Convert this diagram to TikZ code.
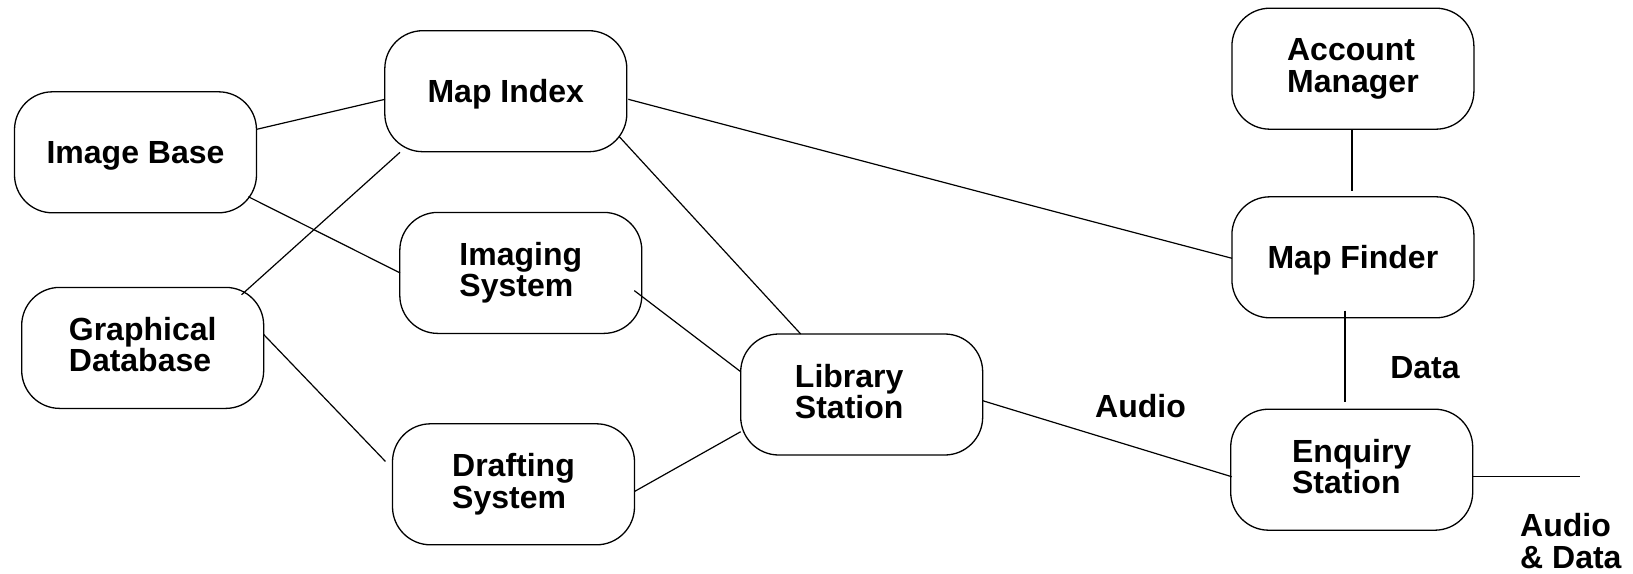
\documentclass[tikz,border=0pt]{standalone}
\usepackage{fontspec}
\setmainfont{Liberation Sans}
\begin{document}
\begin{tikzpicture}[x=1pt,y=-1pt,
  box/.style={draw,line width=1.3pt,rounded corners=38pt,minimum width=242pt,minimum height=121pt,inner sep=0pt,align=left,font=\fontsize{32}{31.5}\selectfont\bfseries,text depth=6.5pt},
  onebox/.style={box,text depth=0pt},
  lbl/.style={inner sep=0pt,align=left,font=\fontsize{32}{31.5}\selectfont\bfseries},
  link/.style={line width=1.2pt}]
\useasboundingbox (0,0) rectangle (1633,573);
\node[onebox] (ib) at (135.5,152.3) {Image Base};
\node[onebox] (mi) at (505.8,91.2) {Map Index};
\node[box] (is) at (520.8,272.9) {Imaging\\System};
\node[box] (gd) at (142.7,347.9) {Graphical\\Database};
\node[box] (ds) at (513.5,484.3) {Drafting\\System};
\node[box] (ls) at (861.7,394.5) {Library\\Station\hspace*{25pt}};
\node[box] (am) at (1352.9,68.7) {Account\\Manager};
\node[onebox] (mf) at (1352.9,257.3) {Map Finder};
\node[box] (es) at (1351.7,469.7) {Enquiry\\Station};
\coordinate (out) at (1580,476.7);
\draw[link] ([shift={(121.2,-23)}]ib.center) -- ([shift={(-120.8,8.1)}]mi.center);
\draw[link] ([shift={(112.8,44.4)}]ib.center) -- ([shift={(-120.8,0)}]is.center);
\draw[link] ([shift={(-105.8,61.1)}]mi.center) -- ([shift={(98.9,-53.2)}]gd.center);
\draw[link] ([shift={(113.5,45.5)}]mi.center) -- ([shift={(-61,-60.5)}]ls.center);
\draw[link] ([shift={(122.5,8.1)}]mi.center) -- ([shift={(-120.9,1)}]mf.center);
\draw[link] ([shift={(113.5,17.7)}]is.center) -- ([shift={(-121,-22.8)}]ls.center);
\draw[link] ([shift={(120.8,-13.6)}]gd.center) -- ([shift={(-128.1,-22.9)}]ds.center);
\draw[link] ([shift={(120.8,7.3)}]ds.center) -- ([shift={(-121,37.2)}]ls.center);
\draw[link] ([shift={(121,6.2)}]ls.center) -- ([shift={(-120,7)}]es.center);
\draw[link] ([shift={(-1,60.4)}]am.center) -- ([shift={(-1,-66.7)}]mf.center);
\draw[link] ([shift={(-7.9,53.4)}]mf.center) -- ([shift={(-6.7,-68)}]es.center);
\draw[link] ([shift={(121.6,7)}]es.center) -- (out);
\node[lbl] (audio) at (1140.5,406.2) {Audio};
\node[lbl] (data) at (1425,368) {Data};
\node[lbl,anchor=north west] (ad) at (1520,513.5) {Audio\\\& Data};
\end{tikzpicture}
\end{document}
